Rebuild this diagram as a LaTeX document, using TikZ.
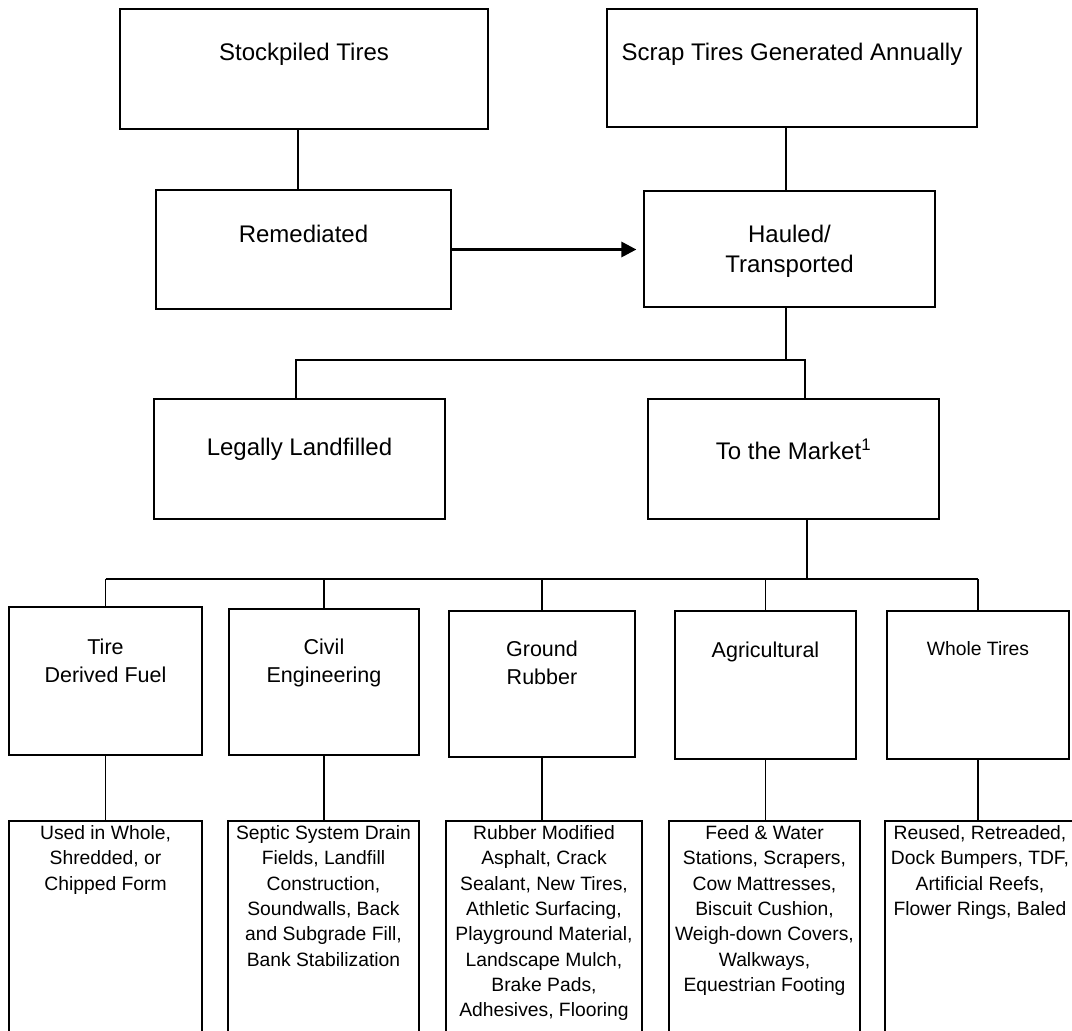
\documentclass[tikz,border=0pt]{standalone}
\usepackage{fontspec}
\setmainfont{Liberation Sans}
\usetikzlibrary{positioning,arrows.meta}

\begin{document}
\begin{tikzpicture}[
    x=1pt, y=-1pt,
    box/.style={rectangle, draw, line width=1.2pt, inner sep=0pt},
    bigtext/.style={inner sep=0pt, align=center, font=\fontsize{24}{30}\selectfont},
    midtext/.style={inner sep=0pt, align=center, font=\fontsize{21.5}{28}\selectfont},
    smalltext/.style={inner sep=0pt, align=center, font=\fontsize{19.3}{25.3}\selectfont},
    link/.style={line width=1.2pt},
    arrow/.style={-{Triangle[length=15pt,width=15pt]}, line width=3pt},
]
\useasboundingbox (0,0) rectangle (1072,1031);
\clip (0,0) rectangle (1072,1031);

% Sources
\node[box, minimum width=368pt, minimum height=120pt] (stock) at (304,69) {};
\node[box, minimum width=370pt, minimum height=118pt] (scrap) at (792,68) {};
\node[bigtext, below=35pt of stock.north] (stock-t) {Stockpiled Tires};
\node[bigtext, below=35pt of scrap.north] (scrap-t) {Scrap Tires Generated Annually};

\node[box, minimum width=295pt, minimum height=119pt] (remed) at (303.5,249.5) {};
\node[box, minimum width=291pt, minimum height=116pt] (hauled) at (789.5,249) {};
\node[bigtext, below=36pt of remed.north] (remed-t) {Remediated};
\node[bigtext, below=35pt of hauled.north] (hauled-t) {Hauled/\\Transported};

\draw[link] ([xshift=-6pt]stock.south) -- ([xshift=-6pt]stock.south |- remed.north);
\draw[link] ([xshift=-6pt]scrap.south) -- ([xshift=-6pt]scrap.south |- hauled.north);
\draw[arrow, shorten >=7pt] (remed.east) -- (remed.east -| hauled.west);

% Destinations
\node[box, minimum width=291pt, minimum height=120pt] (landfill) at (299.5,459) {};
\node[box, minimum width=291pt, minimum height=120pt] (market) at (793.5,459) {};
\node[bigtext, below=40pt of landfill.north] (landfill-t) {Legally Landfilled};
\node[bigtext, below=40pt of market.north] (market-t) {To the Market\textsuperscript{1}};

\coordinate (bus1) at (805,360);
\draw[link] ([xshift=-3.5pt]hauled.south) -- ([xshift=-3.5pt]hauled.south |- bus1);
\draw[link] ([xshift=-3.5pt]landfill.north) |- (bus1) -- ([xshift=11.5pt]market.north);

% Markets
\node[box, minimum width=193pt, minimum height=148pt] (tdf) at (105.5,681) {};
\node[box, minimum width=190pt, minimum height=146pt] (civil) at (324,682) {};
\node[box, minimum width=186pt, minimum height=146pt] (ground) at (542,684) {};
\node[box, minimum width=181pt, minimum height=148pt] (agri) at (765.5,685) {};
\node[box, minimum width=182pt, minimum height=148pt] (whole) at (978,685) {};
\node[midtext, below=32pt of tdf.north] (tdf-t) {Tire\\Derived Fuel};
\node[midtext, below=30pt of civil.north] (civil-t) {Civil\\Engineering};
\node[midtext, below=30pt of ground.north] (ground-t) {Ground\\Rubber};
\node[midtext, below=31pt of agri.north] (agri-t) {Agricultural};
\node[smalltext, below=31pt of whole.north] (whole-t) {Whole Tires};

\coordinate (bus2) at (0,579);
\draw[link] ([xshift=13.5pt]market.south) -- ([xshift=13.5pt]market.south |- bus2);
\draw[link] (bus2 -| tdf.north) -- (bus2 -| whole.north);
\foreach \n in {tdf,civil,ground,agri,whole}
    \draw[link] (bus2 -| \n.north) -- (\n.north);

% Uses
\node[box, minimum width=193pt, minimum height=230pt] (tdf-use) at (105.5,936) {};
\node[box, minimum width=191pt, minimum height=230pt] (civil-use) at (323.5,936) {};
\node[box, minimum width=196pt, minimum height=230pt] (ground-use) at (544,936) {};
\node[box, minimum width=191pt, minimum height=230pt] (agri-use) at (764.5,936) {};
\node[box, minimum width=190pt, minimum height=230pt] (whole-use) at (980,936) {};
\node[smalltext, below=5pt of tdf-use.north] (tdf-u) {Used in Whole,\\Shredded, or\\Chipped Form};
\node[smalltext, below=5pt of civil-use.north] (civil-u) {Septic System Drain\\Fields, Landfill\\Construction,\\Soundwalls, Back\\and Subgrade Fill,\\Bank Stabilization};
\node[smalltext, below=5pt of ground-use.north] (ground-u) {Rubber Modified\\Asphalt, Crack\\Sealant, New Tires,\\Athletic Surfacing,\\Playground Material,\\Landscape Mulch,\\Brake Pads,\\Adhesives, Flooring};
\node[smalltext, below=5pt of agri-use.north] (agri-u) {Feed \& Water\\Stations, Scrapers,\\Cow Mattresses,\\Biscuit Cushion,\\Weigh-down Covers,\\Walkways,\\Equestrian Footing};
\node[smalltext, below=5pt of whole-use.north] (whole-u) {Reused, Retreaded,\\Dock Bumpers, TDF,\\Artificial Reefs,\\Flower Rings, Baled};

\foreach \n in {tdf,civil,ground,agri,whole}
    \draw[link] (\n.south) -- (\n.south |- \n-use.north);

\end{tikzpicture}
\end{document}
